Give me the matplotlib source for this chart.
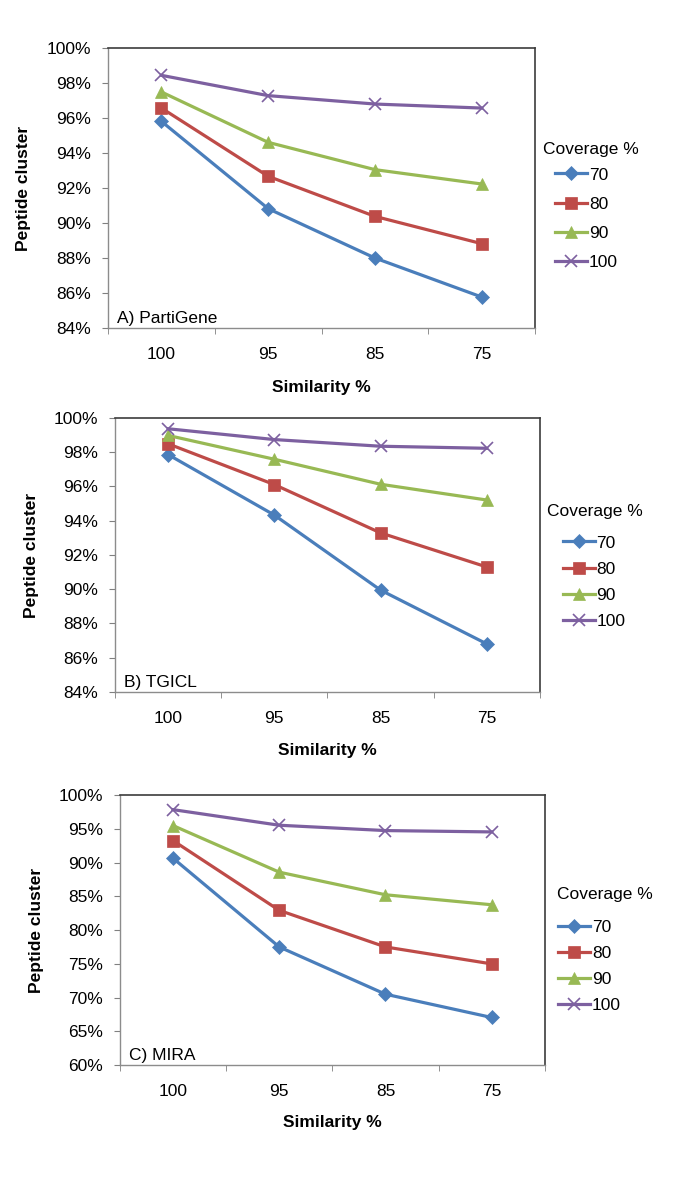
import matplotlib
matplotlib.use("Agg")
import matplotlib.pyplot as plt
from matplotlib.ticker import PercentFormatter, MultipleLocator

plt.rcParams['font.family'] = ['Liberation Sans', 'DejaVu Sans']

similarity = ['100', '95', '85', '75']
coverage = ['70', '80', '90', '100']

partigene_70 = [95.81, 90.82, 88.00, 85.77]
partigene_80 = [96.57, 92.67, 90.38, 88.82]
partigene_90 = [97.49, 94.61, 93.05, 92.23]
partigene_100 = [98.44, 97.28, 96.80, 96.57]

tgicl_70 = [97.86, 94.33, 89.95, 86.81]
tgicl_80 = [98.49, 96.11, 93.29, 91.30]
tgicl_90 = [98.98, 97.59, 96.13, 95.21]
tgicl_100 = [99.37, 98.74, 98.35, 98.23]

mira_70 = [90.64, 77.49, 70.49, 67.04]
mira_80 = [93.25, 82.91, 77.49, 74.98]
mira_90 = [95.47, 88.57, 85.22, 83.74]
mira_100 = [97.83, 95.52, 94.73, 94.53]

COLORS = ['#4A7EBB', '#BE4B48', '#98B954', '#7D60A0']
MARKERS = ['D', 's', '^', 'x']
MSIZES = [7, 8.5, 9, 9]


def draw_panel(ax, series, label, ylim, ystep, title_xy, leg_xy, leg_space):
    """
    Draw one Excel-style line panel.
    """
    x = range(len(similarity))
    for vals, cov, col, mk, ms in zip(series, coverage, COLORS, MARKERS, MSIZES):
        ax.plot(x, vals, color=col, marker=mk, markersize=ms, lw=2.3,
                markeredgecolor=col, markeredgewidth=1.2 if mk == 'x' else 0.5,
                label=cov)
    ax.set_xlim(-0.5, len(similarity) - 0.5)
    ax.set_ylim(*ylim)
    ax.yaxis.set_major_locator(MultipleLocator(ystep))
    ax.yaxis.set_major_formatter(PercentFormatter(decimals=0))
    ax.set_xticks(list(x))
    ax.set_xticklabels(similarity)
    ax.set_xticks([i - 0.5 for i in range(len(similarity) + 1)], minor=True)
    ax.tick_params(axis='x', which='major', length=0, pad=14, labelsize=12.5)
    ax.tick_params(axis='x', which='minor', length=4, color='#808080',
                   direction='out')
    ax.tick_params(axis='y', length=4, color='#808080', pad=8, labelsize=12.5)
    for side in ['left', 'bottom']:
        ax.spines[side].set_color('#8c8c8c')
        ax.spines[side].set_linewidth(1.0)
    for side in ['top', 'right']:
        ax.spines[side].set_color('#3c3c3c')
        ax.spines[side].set_linewidth(1.2)
    ax.set_xlabel('Similarity %', fontsize=12.5, fontweight='bold')
    ax.xaxis.set_label_coords(0.5, -0.212)
    ax.xaxis.label.set_va('center')
    ax.set_ylabel('Peptide cluster', fontsize=12.5, fontweight='bold')
    ax.yaxis.set_label_coords(-0.197, 0.5)
    ax.yaxis.label.set_va('center')
    ax.text(0.022, 0.035, label, transform=ax.transAxes, fontsize=12.5,
            va='center', ha='left')
    ax.text(title_xy[0], title_xy[1], 'Coverage %', transform=ax.transAxes,
            fontsize=12.5, va='center', ha='left')
    ax.legend(loc='center left', bbox_to_anchor=leg_xy,
              frameon=False, fontsize=12.5, borderpad=0,
              handlelength=1.85, handletextpad=0.1,
              labelspacing=leg_space, borderaxespad=0)


def main() -> None:
    """
    Main function.
    """
    fig = plt.figure(figsize=(6.85, 11.98), dpi=100)
    ax_a = fig.add_axes([0.1577, 0.7262, 0.6235, 0.2337])
    ax_b = fig.add_axes([0.168, 0.4224, 0.620, 0.2287])
    ax_c = fig.add_axes([0.175, 0.111, 0.6204, 0.2254])

    draw_panel(ax_a, [partigene_70, partigene_80, partigene_90, partigene_100],
               'A) PartiGene', (84, 100), 2, (1.019, 0.636), (1.047, 0.391),
               0.80)
    draw_panel(ax_b, [tgicl_70, tgicl_80, tgicl_90, tgicl_100],
               'B) TGICL', (84, 100), 2, (1.016, 0.657), (1.054, 0.401),
               0.63)
    draw_panel(ax_c, [mira_70, mira_80, mira_90, mira_100],
               'C) MIRA', (60, 100), 5, (1.028, 0.63), (1.031, 0.365),
               0.61)

    fig.savefig('out.png', dpi=100)


if __name__ == "__main__":
    main()
